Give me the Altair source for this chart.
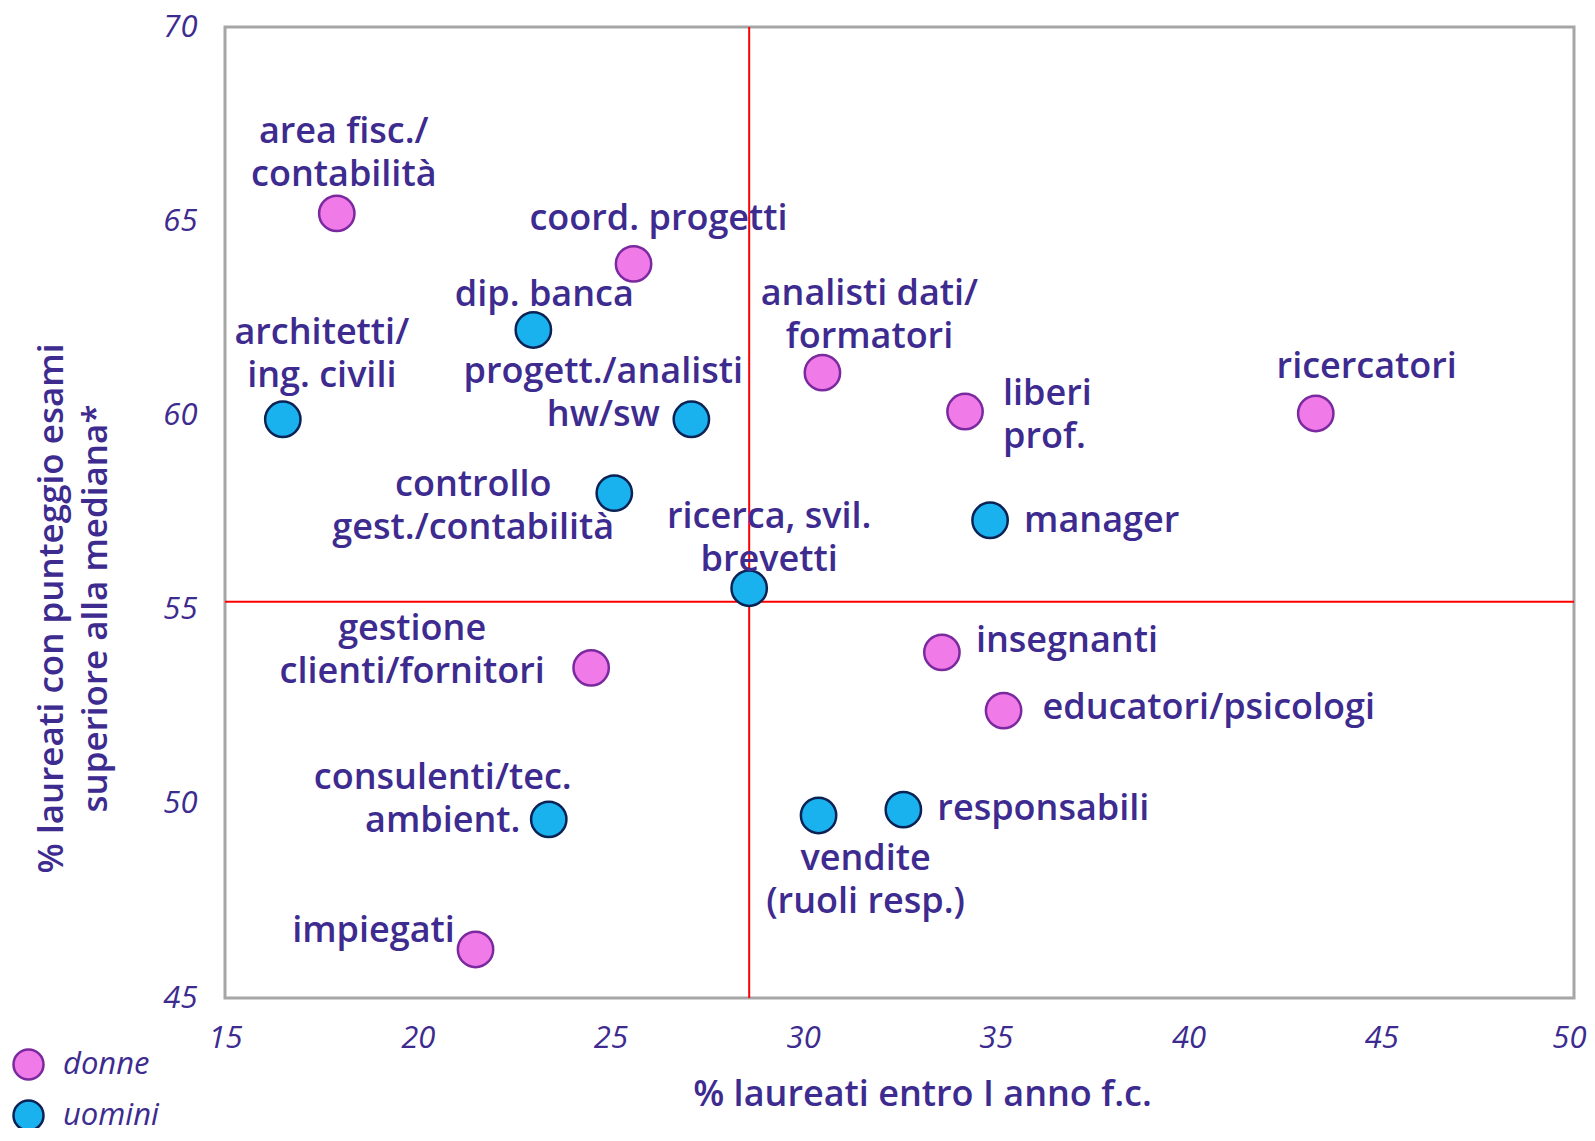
import altair as alt
import pandas as pd

# data
labels = [
    "area fisc./\ncontabilità", "coord. progetti", "dip. banca", "architetti/\ning. civili",
    "progett./analisti\nhw/sw", "analisti dati/\nformatori", "liberi\nprof.", "ricercatori",
    "controllo\ngest./contabilità", "manager", "ricerca, svil.\nbrevetti",
    "gestione\nclienti/fornitori", "insegnanti", "educatori/psicologi",
    "consulenti/tec.\nambient.", "responsabili", "vendite\n(ruoli resp.)", "impiegati",
]
x_vals = [17.9, 25.6, 23.0, 16.5, 27.1, 30.5, 34.2, 43.3, 25.1, 34.85, 28.6,
          24.5, 33.6, 35.2, 23.4, 32.6, 30.4, 21.5]
y_vals = [65.2, 63.9, 62.2, 59.9, 59.9, 61.1, 60.1, 60.05, 58.0, 57.3, 55.55,
          53.5, 53.9, 52.4, 49.6, 49.85, 49.7, 46.25]
sex = ["donne", "donne", "uomini", "uomini", "uomini", "donne", "donne", "donne",
       "uomini", "uomini", "uomini", "donne", "donne", "donne", "uomini", "uomini",
       "uomini", "donne"]
x_ref = [28.6]
y_ref = [55.2]
x_ticks = [15, 20, 25, 30, 35, 40, 45, 50]
y_ticks = [45, 50, 55, 60, 65, 70]

# label placement (style): align, dx, dy
label_align = ["center", "center", "center", "center", "center", "center", "left", "center",
               "center", "left", "center", "center", "left", "left", "center", "left",
               "center", "center"]
label_dx = [7, 25, 11, 39, -88, 47, 38, 51, -141, 34, 20, -179, 34, 39, -106, 34, 47, -102]
label_dy = [-70, -34, -24, -75, -36, -68, -7, -35, 3, 12, -60, -28, 0, 8, -30, 10, 55, -7]

df = pd.DataFrame({"label": labels, "x": x_vals, "y": y_vals, "sex": sex})

TXT = "#3d2b8f"
FONT = "Open Sans"

xs = alt.Scale(domain=[15, 50], nice=False, zero=False)
ys = alt.Scale(domain=[45, 70], nice=False, zero=False)

base = alt.Chart(df)

vline = alt.Chart(pd.DataFrame({"x": x_ref})).mark_rule(color="#ff0000", strokeWidth=2).encode(
    x=alt.X("x:Q", scale=xs))
hline = alt.Chart(pd.DataFrame({"y": y_ref})).mark_rule(color="#ff0000", strokeWidth=2).encode(
    y=alt.Y("y:Q", scale=ys))

leg = dict(title=None, orient="none", legendX=-213, legendY=1021,
           symbolSize=900, symbolStrokeWidth=2.5, rowPadding=10,
           labelFont=FONT, labelFontStyle="italic", labelFontSize=31,
           labelColor=TXT, labelOffset=18, padding=0, symbolType="circle")

last_x = x_ticks[-1]
points = base.mark_point(filled=True, shape="circle", size=1250, strokeWidth=2.5, opacity=1).encode(
    x=alt.X("x:Q", scale=xs,
            axis=alt.Axis(values=x_ticks, title="% laureati entro I anno f.c.",
                          grid=False, domain=False, ticks=False, labelFlush=False,
                          labelAlign={"condition": {"test": f"datum.value == {last_x}", "value": "right"},
                                      "value": "center"},
                          labelOffset={"condition": {"test": f"datum.value == {last_x}", "value": 12},
                                       "value": 0},
                          labelFont=FONT, labelFontStyle="italic",
                          labelFontSize=31, labelColor=TXT, labelPadding=25,
                          titleFont=FONT, titleFontSize=36, titleFontWeight=600, titleColor=TXT,
                          titleX=697, titleY=107, titleBaseline="alphabetic", titleAnchor="middle",
                          titleAlign="center")),
    y=alt.Y("y:Q", scale=ys,
            axis=alt.Axis(values=y_ticks,
                          title=["% laureati con punteggio esami", "superiore alla mediana*"],
                          grid=False, domain=False, ticks=False, labelFlush=False,
                          labelFont=FONT, labelFontStyle="italic",
                          labelFontSize=31, labelColor=TXT, labelPadding=28,
                          titleFont=FONT, titleFontSize=35, titleFontWeight=600, titleColor=TXT,
                          titleAngle=-90, titleX=-163, titleY=581, titleBaseline="alphabetic",
                          titleAlign="center", titleLineHeight=44)),
    fill=alt.Fill("sex:N", scale=alt.Scale(domain=["donne", "uomini"], range=["#f07ae8", "#1ab2ee"]),
                  legend=alt.Legend(**leg)),
    stroke=alt.Stroke("sex:N", scale=alt.Scale(domain=["donne", "uomini"], range=["#7a2a9e", "#0b2255"]),
                      legend=alt.Legend(**leg)),
)

text_layers = []
for i, lab in enumerate(labels):
    t = base.transform_filter(alt.datum.label == lab).mark_text(
        align=label_align[i], baseline="alphabetic", dx=label_dx[i], dy=label_dy[i],
        font=FONT, fontSize=36, fontWeight=600, color=TXT, lineBreak="\n", lineHeight=43,
    ).encode(x=alt.X("x:Q", scale=xs), y=alt.Y("y:Q", scale=ys), text="label:N")
    text_layers.append(t)

chart = alt.layer(vline, hline, points, *text_layers).properties(
    width=1349, height=971,
    background="white",
    autosize=alt.AutoSizeParams(type="none"),
    padding={"left": 217, "top": 19, "right": 13, "bottom": 130},
).configure_view(stroke="#a6a6a6", strokeWidth=3)

chart.save("out.html", embed_options={"renderer": "svg", "actions": False})
